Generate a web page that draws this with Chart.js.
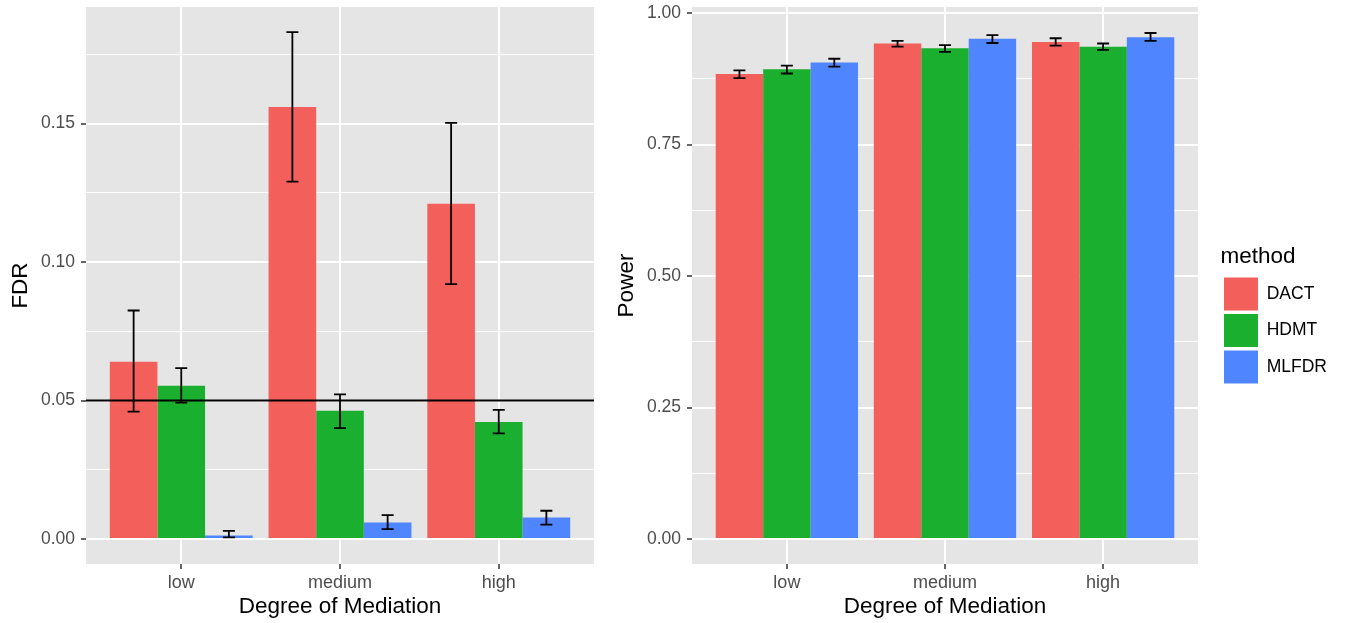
<!DOCTYPE html>
<html>
<head>
<meta charset="utf-8">
<script src="https://cdn.jsdelivr.net/npm/chart.js@4/dist/chart.umd.min.js"></script>
<style>
  html, body { margin: 0; padding: 0; background: #ffffff; }
  #wrap { position: relative; width: 1353px; height: 623px; overflow: hidden; }
  #c1 { position: absolute; left: 0; top: 0; }
  #c2 { position: absolute; left: 600px; top: 0; }
</style>
</head>
<body>
<div id="wrap">
  <canvas id="c1" width="600" height="623"></canvas>
  <canvas id="c2" width="753" height="623"></canvas>
</div>
<script>
// ---------- data ----------
const categories = ['low', 'medium', 'high'];
const methods = ['DACT', 'HDMT', 'MLFDR'];
const methodColors = ['#F35F5B', '#1AAF2E', '#4F86FF'];

// FDR (left panel)
const fdrDACT     = [0.0640, 0.1560, 0.1210];
const fdrDACTLow  = [0.0460, 0.1290, 0.0920];
const fdrDACTHigh = [0.0825, 0.1830, 0.1502];
const fdrHDMT     = [0.0553, 0.0463, 0.0422];
const fdrHDMTLow  = [0.0492, 0.0400, 0.0381];
const fdrHDMTHigh = [0.0617, 0.0522, 0.0466];
const fdrMLFDR     = [0.0013, 0.0060, 0.0078];
const fdrMLFDRLow  = [0.0006, 0.0036, 0.0052];
const fdrMLFDRHigh = [0.0029, 0.0086, 0.0102];
const fdrReference = 0.05;

// Power (right panel)
const powDACT     = [0.884, 0.942, 0.945];
const powDACTLow  = [0.876, 0.936, 0.938];
const powDACTHigh = [0.891, 0.947, 0.952];
const powHDMT     = [0.893, 0.933, 0.936];
const powHDMTLow  = [0.885, 0.926, 0.930];
const powHDMTHigh = [0.900, 0.939, 0.942];
const powMLFDR     = [0.906, 0.951, 0.954];
const powMLFDRLow  = [0.898, 0.943, 0.947];
const powMLFDRHigh = [0.913, 0.958, 0.962];

// tick labels
const fdrTickValues = [0, 0.025, 0.05, 0.075, 0.10, 0.125, 0.15, 0.175];
const fdrTickLabels = ['0.00', '', '0.05', '', '0.10', '', '0.15', ''];
const powTickValues = [0, 0.125, 0.25, 0.375, 0.50, 0.625, 0.75, 0.875, 1.00];
const powTickLabels = ['0.00', '', '0.25', '', '0.50', '', '0.75', '', '1.00'];
const xTickValues = categories.map((c, i) => i + 1);

const xTitle = 'Degree of Mediation';
const legendTitle = 'method';

// ---------- helpers ----------
const FONT = "'Liberation Sans', Arial, Helvetica, sans-serif";
const PANEL_BG = '#E5E5E5';
const TICK_COL = '#4D4D4D';

function makeDatasets(valueSets, lowSets, highSets) {
  return methods.map((m, k) => ({
    label: m,
    data: categories.map((c, i) => ({ x: xTickValues[i], y: valueSets[k][i] })),
    errLow: lowSets[k],
    errHigh: highSets[k],
    backgroundColor: methodColors[k],
    borderWidth: 0,
    categoryPercentage: 0.9,
    barPercentage: 1.0
  }));
}

const panelBg = {
  id: 'panelBg',
  beforeDraw(chart) {
    const a = chart.chartArea, ctx = chart.ctx;
    ctx.save();
    ctx.fillStyle = PANEL_BG;
    ctx.fillRect(a.left, a.top, a.right - a.left, a.bottom - a.top);
    ctx.restore();
  }
};

const errorBars = {
  id: 'errorBars',
  afterDatasetsDraw(chart) {
    const ctx = chart.ctx, ys = chart.scales.y;
    ctx.save();
    ctx.strokeStyle = '#000000';
    ctx.lineWidth = 1.8;
    chart.data.datasets.forEach((ds, di) => {
      const meta = chart.getDatasetMeta(di);
      meta.data.forEach((el, j) => {
        const x = el.x;
        const y1 = ys.getPixelForValue(ds.errLow[j]);
        const y2 = ys.getPixelForValue(ds.errHigh[j]);
        const hw = 6;
        ctx.beginPath();
        ctx.moveTo(x, y1); ctx.lineTo(x, y2);
        ctx.moveTo(x - hw, y1); ctx.lineTo(x + hw, y1);
        ctx.moveTo(x - hw, y2); ctx.lineTo(x + hw, y2);
        ctx.stroke();
      });
    });
    ctx.restore();
  }
};

const refLine = {
  id: 'refLine',
  afterDatasetsDraw(chart, args, opts) {
    if (opts.value === undefined) return;
    const ctx = chart.ctx, a = chart.chartArea;
    const y = chart.scales.y.getPixelForValue(opts.value);
    ctx.save();
    ctx.strokeStyle = '#000000';
    ctx.lineWidth = 1.8;
    ctx.beginPath();
    ctx.moveTo(a.left, y); ctx.lineTo(a.right, y);
    ctx.stroke();
    ctx.restore();
  }
};

function xScale() {
  return {
    type: 'linear',
    min: 0.4, max: 3.6,
    offset: false,
    afterBuildTicks(s) { s.ticks = xTickValues.map(v => ({ value: v })); },
    afterFit(s) { s.height = 59; s.paddingLeft = 0; s.paddingRight = 0; },
    ticks: {
      autoSkip: false, maxRotation: 0, minRotation: 0,
      padding: 3.5,
      color: TICK_COL,
      font: { family: FONT, size: 18 },
      callback: (v, i) => categories[i]
    },
    grid: {
      offset: false,
      color: '#FFFFFF', lineWidth: 2,
      tickColor: '#333333', tickWidth: 1.5, tickLength: 5
    },
    border: { display: false },
    title: {
      display: true, text: xTitle, color: '#000000',
      font: { family: FONT, size: 22.5 },
      padding: { top: 0, bottom: 2.4 }
    }
  };
}

function yScale(min, max, tickValues, tickLabels, title, width, titlePad) {
  return {
    type: 'linear',
    min: min, max: max,
    afterBuildTicks(s) { s.ticks = tickValues.map(v => ({ value: v })); },
    afterFit(s) { s.width = width; s.paddingTop = 0; s.paddingBottom = 0; },
    ticks: {
      autoSkip: false,
      padding: 6,
      color: TICK_COL,
      font: { family: FONT, size: 17.5 },
      callback: (v, i) => tickLabels[i]
    },
    grid: {
      color: '#FFFFFF',
      lineWidth: ctx => (tickLabels[ctx.index] ? 2 : 1),
      tickColor: ctx => (tickLabels[ctx.index] ? '#333333' : 'rgba(0,0,0,0)'),
      tickWidth: 1.5,
      tickLength: 5
    },
    border: { display: false },
    title: {
      display: true, text: title, color: '#000000',
      font: { family: FONT, size: 22.5 },
      padding: { top: titlePad, bottom: 0 }
    }
  };
}

// ---------- left chart: FDR ----------
new Chart(document.getElementById('c1'), {
  type: 'bar',
  data: {
    datasets: makeDatasets([fdrDACT, fdrHDMT, fdrMLFDR],
                           [fdrDACTLow, fdrHDMTLow, fdrMLFDRLow],
                           [fdrDACTHigh, fdrHDMTHigh, fdrMLFDRHigh])
  },
  options: {
    responsive: false,
    animation: false,
    devicePixelRatio: 1,
    layout: { padding: { top: 7, right: 6, bottom: 0, left: 0 } },
    scales: {
      x: xScale(),
      y: yScale(-0.009025, 0.19206, fdrTickValues, fdrTickLabels, 'FDR', 86, 7.5)
    },
    plugins: {
      legend: { display: false },
      tooltip: { enabled: false },
      refLine: { value: fdrReference }
    }
  },
  plugins: [panelBg, errorBars, refLine]
});

// ---------- right chart: Power ----------
new Chart(document.getElementById('c2'), {
  type: 'bar',
  data: {
    datasets: makeDatasets([powDACT, powHDMT, powMLFDR],
                           [powDACTLow, powHDMTLow, powMLFDRLow],
                           [powDACTHigh, powHDMTHigh, powMLFDRHigh])
  },
  options: {
    responsive: false,
    animation: false,
    devicePixelRatio: 1,
    layout: { padding: { top: 7, right: 16, bottom: 0, left: 0 } },
    scales: {
      x: xScale(),
      y: yScale(-0.0475, 1.0114, powTickValues, powTickLabels, 'Power', 92, 13.5),
      gap: {
        type: 'linear', position: 'right', display: true,
        grid: { display: false, drawTicks: false },
        ticks: { display: false },
        border: { display: false },
        afterFit(s) { s.width = 22.5; s.paddingTop = 0; s.paddingBottom = 0; }
      }
    },
    plugins: {
      legend: {
        display: true,
        position: 'right',
        align: 'center',
        labels: {
          boxWidth: 34, boxHeight: 33, padding: 3.5,
          color: '#000000',
          font: { family: FONT, size: 17.5 }
        },
        title: {
          display: true, text: legendTitle, color: '#000000',
          position: 'start',
          font: { family: FONT, size: 22.5 },
          padding: { top: 3, bottom: 1 }
        }
      },
      tooltip: { enabled: false },
      refLine: {}
    }
  },
  plugins: [panelBg, errorBars, refLine]
});
</script>
</body>
</html>
